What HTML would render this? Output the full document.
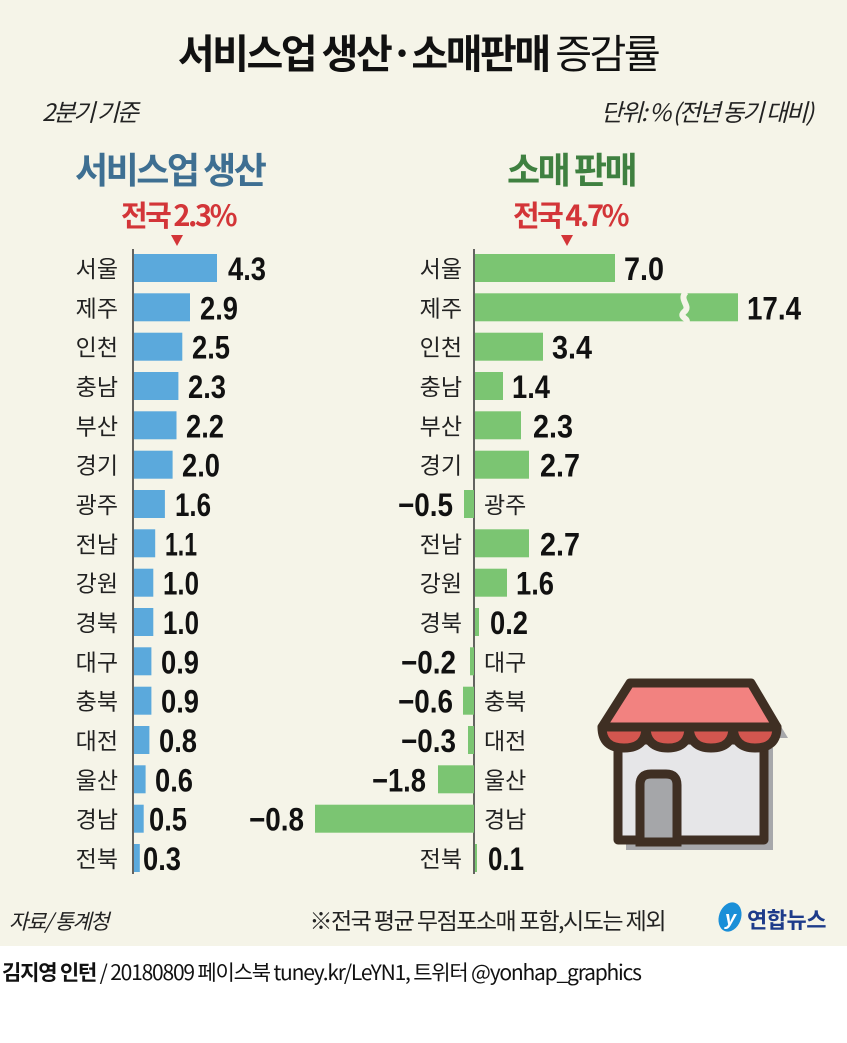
<!DOCTYPE html>
<html><head><meta charset="utf-8"><style>
html,body{margin:0;padding:0;background:#fff;}
svg{display:block;}
text{font-family:"Liberation Sans","Noto Sans CJK KR",sans-serif;}
.k{font-family:"Noto Sans CJK KR","Liberation Sans",sans-serif;}
.n{font-size:23px;fill:#222;}
.v{font-size:32px;fill:#111;font-weight:bold;}
</style></head><body>
<svg width="847" height="1043" viewBox="0 0 847 1043" xmlns="http://www.w3.org/2000/svg">
<rect x="0" y="0" width="847" height="946" fill="#f5f4e8"/>
<text x="418" y="68" text-anchor="middle" class="k" font-size="40" font-weight="bold" fill="#111" letter-spacing="-2.5">서비스업 생산·소매판매 <tspan font-weight="normal">증감률</tspan></text>
<text x="42" y="121" class="k" font-size="24" fill="#222" font-style="italic" letter-spacing="-2">2분기 기준</text>
<text x="812" y="121" text-anchor="end" class="k" font-size="24" fill="#222" font-style="italic" letter-spacing="-2">단위: % (전년 동기 대비)</text>
<text x="75" y="183" class="k" font-size="36" font-weight="bold" fill="#3e6f92" letter-spacing="-2.5">서비스업 생산</text>
<text x="507" y="183" class="k" font-size="36" font-weight="bold" fill="#3f8040" letter-spacing="-2.5">소매 판매</text>
<text x="178" y="226" text-anchor="middle" class="k" font-size="29" font-weight="bold" fill="#d33538" letter-spacing="-2.5">전국 2.3%</text>
<text x="570" y="226" text-anchor="middle" class="k" font-size="29" font-weight="bold" fill="#d33538" letter-spacing="-2.5">전국 4.7%</text>
<polygon points="171,235 183,235 177,246" fill="#d33538"/>
<polygon points="561,235 573,235 567,246" fill="#d33538"/>
<line x1="133" y1="249" x2="133" y2="874" stroke="#333" stroke-width="1.5"/>
<line x1="474" y1="249" x2="474" y2="874" stroke="#333" stroke-width="1.5"/>
<g fill="#5ba9dc">
<rect x="134" y="254" width="83" height="28"/>
<rect x="134" y="293.3" width="56" height="28"/>
<rect x="134" y="332.7" width="48.3" height="28"/>
<rect x="134" y="372" width="44.4" height="28"/>
<rect x="134" y="411.3" width="42.5" height="28"/>
<rect x="134" y="450.7" width="38.6" height="28"/>
<rect x="134" y="490" width="30.9" height="28"/>
<rect x="134" y="529.3" width="21.2" height="28"/>
<rect x="134" y="568.7" width="19.3" height="28"/>
<rect x="134" y="608" width="19.3" height="28"/>
<rect x="134" y="647.3" width="17.4" height="28"/>
<rect x="134" y="686.7" width="17.4" height="28"/>
<rect x="134" y="726" width="15.4" height="28"/>
<rect x="134" y="765.3" width="11.6" height="28"/>
<rect x="134" y="804.7" width="9.7" height="28"/>
<rect x="134" y="844" width="5.8" height="28"/>
</g>
<g class="k n" text-anchor="end">
<text x="118" y="277">서울</text><text x="118" y="316.3">제주</text><text x="118" y="355.7">인천</text><text x="118" y="395">충남</text>
<text x="118" y="434.3">부산</text><text x="118" y="473.7">경기</text><text x="118" y="513">광주</text><text x="118" y="552.3">전남</text>
<text x="118" y="591.7">강원</text><text x="118" y="631">경북</text><text x="118" y="670.3">대구</text><text x="118" y="709.7">충북</text>
<text x="118" y="749">대전</text><text x="118" y="788.3">울산</text><text x="118" y="827.7">경남</text><text x="118" y="867">전북</text>
</g>
<g class="v" lengthAdjust="spacingAndGlyphs">
<text x="228" y="280" textLength="38" lengthAdjust="spacingAndGlyphs">4.3</text>
<text x="200" y="319.3" textLength="38" lengthAdjust="spacingAndGlyphs">2.9</text>
<text x="192" y="358.7" textLength="38" lengthAdjust="spacingAndGlyphs">2.5</text>
<text x="188" y="398" textLength="38" lengthAdjust="spacingAndGlyphs">2.3</text>
<text x="186" y="437.3" textLength="38" lengthAdjust="spacingAndGlyphs">2.2</text>
<text x="182" y="476.7" textLength="38" lengthAdjust="spacingAndGlyphs">2.0</text>
<text x="175" y="516" textLength="36" lengthAdjust="spacingAndGlyphs">1.6</text>
<text x="165" y="555.3" textLength="32" lengthAdjust="spacingAndGlyphs">1.1</text>
<text x="163" y="594.7" textLength="36" lengthAdjust="spacingAndGlyphs">1.0</text>
<text x="163" y="634" textLength="36" lengthAdjust="spacingAndGlyphs">1.0</text>
<text x="161" y="673.3" textLength="38" lengthAdjust="spacingAndGlyphs">0.9</text>
<text x="161" y="712.7" textLength="38" lengthAdjust="spacingAndGlyphs">0.9</text>
<text x="159" y="752" textLength="38" lengthAdjust="spacingAndGlyphs">0.8</text>
<text x="155" y="791.3" textLength="38" lengthAdjust="spacingAndGlyphs">0.6</text>
<text x="149" y="830.7" textLength="38" lengthAdjust="spacingAndGlyphs">0.5</text>
<text x="143" y="870" textLength="38" lengthAdjust="spacingAndGlyphs">0.3</text>
</g>
<g fill="#7bc572">
<rect x="475" y="254" width="140" height="28"/>
<rect x="475" y="293.3" width="263" height="28"/>
<rect x="475" y="332.7" width="68" height="28"/>
<rect x="475" y="372" width="28" height="28"/>
<rect x="475" y="411.3" width="46" height="28"/>
<rect x="475" y="450.7" width="54" height="28"/>
<rect x="464" y="490" width="10" height="28"/>
<rect x="475" y="529.3" width="54" height="28"/>
<rect x="475" y="568.7" width="32" height="28"/>
<rect x="475" y="608" width="4" height="28"/>
<rect x="470" y="647.3" width="4" height="28"/>
<rect x="463" y="686.7" width="11" height="28"/>
<rect x="468" y="726" width="6" height="28"/>
<rect x="438" y="765.3" width="36" height="28"/>
<rect x="315" y="804.7" width="159" height="28"/>
<rect x="475" y="844" width="2" height="28"/>
</g>
<path d="M686,292 C678,300 692,306 684,312 C678,318 690,318 686,323" stroke="#f5f4e8" stroke-width="6" fill="none"/>
<g class="k n" text-anchor="end">
<text x="462" y="277">서울</text><text x="462" y="316.3">제주</text><text x="462" y="355.7">인천</text><text x="462" y="395">충남</text>
<text x="462" y="434.3">부산</text><text x="462" y="473.7">경기</text><text x="462" y="552.3">전남</text>
<text x="462" y="591.7">강원</text><text x="462" y="631">경북</text><text x="462" y="867">전북</text>
</g>
<g class="k n">
<text x="484" y="513">광주</text><text x="484" y="670.3">대구</text><text x="484" y="709.7">충북</text>
<text x="484" y="749">대전</text><text x="484" y="788.3">울산</text><text x="484" y="827.7">경남</text>
</g>
<g class="v">
<text x="624" y="280" textLength="40" lengthAdjust="spacingAndGlyphs">7.0</text>
<text x="747" y="319.3" textLength="54" lengthAdjust="spacingAndGlyphs">17.4</text>
<text x="552" y="358.7" textLength="40" lengthAdjust="spacingAndGlyphs">3.4</text>
<text x="512" y="398" textLength="38" lengthAdjust="spacingAndGlyphs">1.4</text>
<text x="533" y="437.3" textLength="40" lengthAdjust="spacingAndGlyphs">2.3</text>
<text x="540" y="476.7" textLength="40" lengthAdjust="spacingAndGlyphs">2.7</text>
<text x="540" y="555.3" textLength="40" lengthAdjust="spacingAndGlyphs">2.7</text>
<text x="516" y="594.7" textLength="38" lengthAdjust="spacingAndGlyphs">1.6</text>
<text x="490" y="634" textLength="38" lengthAdjust="spacingAndGlyphs">0.2</text>
<text x="488" y="870" textLength="36" lengthAdjust="spacingAndGlyphs">0.1</text>
</g>
<g class="v">
<text x="398" y="516" textLength="55" lengthAdjust="spacingAndGlyphs">−0.5</text>
<text x="401" y="673.3" textLength="55" lengthAdjust="spacingAndGlyphs">−0.2</text>
<text x="398" y="712.7" textLength="55" lengthAdjust="spacingAndGlyphs">−0.6</text>
<text x="401" y="752" textLength="55" lengthAdjust="spacingAndGlyphs">−0.3</text>
<text x="372" y="791.3" textLength="54" lengthAdjust="spacingAndGlyphs">−1.8</text>
<text x="249" y="830.7" textLength="55" lengthAdjust="spacingAndGlyphs">−0.8</text>
</g>
<!-- store icon -->
<g>
<rect x="626" y="748" width="147" height="102" fill="#a7a8ab"/>
<path d="M640,692 L760,692 L788,738 L612,738 Z" fill="#a7a8ab"/>
<rect x="618" y="740" width="146" height="100" fill="#e6e6e8" stroke="#3f2f23" stroke-width="9" stroke-linejoin="round"/>
<path d="M640,842 L640,785 Q640,774 651,774 L666,774 Q677,774 677,785 L677,842 Z" fill="#a5a6a9" stroke="#3f2f23" stroke-width="9"/>
<path d="M630,683 L751,683 L777,727 L602,727 Z" fill="#f28280" stroke="#3f2f23" stroke-width="9" stroke-linejoin="round"/>
<path d="M602,727 L777,727 Q777,748 755,748 Q734,748 733,727 Q733,748 711,748 Q690,748 689,727 Q689,748 668,748 Q646,748 646,727 Q646,748 624,748 Q602,748 602,727 Z" fill="#d3564f" stroke="#3f2f23" stroke-width="9" stroke-linejoin="round"/>
</g>
<text x="9" y="929" class="k" font-size="21" fill="#222" font-style="italic" letter-spacing="-1.5">자료/ 통계청</text>
<text x="665" y="929" text-anchor="end" class="k" font-size="23" fill="#222" letter-spacing="-1.5">※전국 평균 무점포소매 포함,시도는 제외</text>
<ellipse cx="730" cy="917" rx="11" ry="15" fill="#1a8fd8" transform="rotate(20 730 917)"/>
<text x="725" y="925" font-size="20" font-style="italic" font-weight="bold" fill="#fff">y</text>
<text x="747" y="928" class="k" font-size="22" font-weight="bold" fill="#1d3b8a" letter-spacing="-0.5">연합뉴스</text>
<text x="2" y="980" class="k" font-size="21" fill="#111" letter-spacing="-1.2"><tspan font-weight="bold">김지영 인턴</tspan> / 20180809 페이스북 tuney.kr/LeYN1, 트위터 @yonhap_graphics</text>
</svg>
</body></html>
